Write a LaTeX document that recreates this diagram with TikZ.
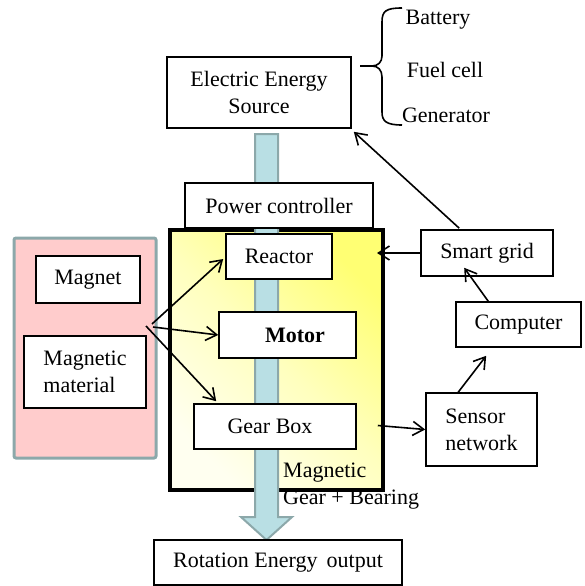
\documentclass[tikz,border=0pt]{standalone}
\usepackage{fontspec}
\setmainfont{Liberation Serif}
\usetikzlibrary{arrows.meta,calc}
\definecolor{shaftfill}{RGB}{185,223,228}
\definecolor{shaftline}{RGB}{140,168,170}
\definecolor{pinkfill}{RGB}{255,204,204}
\definecolor{pinkline}{RGB}{140,168,170}
\definecolor{ytop}{RGB}{255,255,115}
\definecolor{ymid}{RGB}{255,255,190}
\definecolor{ybot}{RGB}{255,255,240}
\begin{document}
\begin{tikzpicture}[x=1pt,y=-1pt,
  txt/.style={font=\fontsize{22}{27}\selectfont},
  box/.style={txt,draw=black,line width=1.6pt,fill=white,inner sep=0pt,align=center},
  conn/.style={line width=1.6pt,-{Straight Barb[length=11pt,width=14pt]}},
  lbl/.style={txt,inner sep=0pt}]
\useasboundingbox (0,0) rectangle (584,586);

% yellow housing and pink magnet panel
\node[draw=black,line width=4pt,minimum width=213pt,minimum height=260pt,
      top color=ytop,bottom color=ybot,middle color=ymid,shading angle=-45,inner sep=0pt] (ybox) at (276.5,360) {};
\node[draw=pinkline,fill=pinkfill,line width=3pt,rounded corners=2pt,
      minimum width=142pt,minimum height=220pt,inner sep=0pt] (pink) at (85,348) {};

% shaft block arrow
\path[fill=shaftfill,draw=shaftline,line width=2pt]
  (255,134) -- (278,134) -- (278,517) -- (292,517) -- (266.5,540) -- (241,517) -- (255,517) -- cycle;

% boxes
\node[box,minimum width=184pt,minimum height=71pt] (ees) at (259,92.5) {Electric Energy\\Source};
\node[box,minimum width=188pt,minimum height=45pt] (pc) at (279,205.5) {Power controller};
\node[box,minimum width=106pt,minimum height=45pt] (reactor) at (279,256.5) {Reactor};
\node[box,minimum width=137pt,minimum height=46pt] (motor) at (287.5,335) {\hspace*{15pt}\bfseries Motor};
\node[box,minimum width=162pt,minimum height=45pt] (gear) at (275,426.5) {\hspace*{-10pt}Gear Box};
\node[box,minimum width=104pt,minimum height=47pt] (magnet) at (88,279.5) {Magnet};
\node[box,minimum width=122pt,minimum height=72pt,align=left] (magmat) at (85,372) {Magnetic\\material};
\node[box,minimum width=132pt,minimum height=46pt] (smart) at (487,253) {Smart grid};
\node[box,minimum width=125pt,minimum height=45pt] (computer) at (518.5,324.5) {Computer};
\node[box,minimum width=111pt,minimum height=73pt,align=left] (sensor) at (481.5,429.5) {Sensor\\network};
\node[box,minimum width=248pt,minimum height=45pt] (rot) at (278,562.5) {Rotation Energy\, output};

% source list with brace
\node[lbl] (battery) at (438,20) {Battery};
\node[lbl] (fuel) at (445,70) {Fuel cell};
\node[lbl] (generator) at (446,115) {Generator};
\draw[line width=1.6pt]
  (402,8) .. controls (386,8) and (382,11) .. (382,22) -- (382,56)
  .. controls (382,62) and (378,66) .. (372,66) -- (360,66);
\draw[line width=1.6pt]
  (372,66) .. controls (378,66) and (382,70) .. (382,77) -- (382,112)
  .. controls (382,121) and (386,125) .. (402,125);

% magnetic gear label
\node[lbl,anchor=west,align=left] (mgb) at (283,486) {Magnetic\\Gear + Bearing};

% connectors
\coordinate (src) at (152,324);
\draw[conn] (src) -- ($(reactor.west)+(-2,2.5)$);
\draw[conn] ($(src)+(1,3)$) -- (motor.west);
\draw[conn] ($(src)+(-6,2)$) -- ($(gear.north west)+(23,-2)$);
\draw[conn] (smart.west) -- ($(smart.west -| ybox.east)+(-8,0)$);
\draw[conn] ($(smart.north west)+(39,-1)$) -- ($(ees.south east)+(2,3)$);
\draw[conn] ($(computer.north west)+(33,0)$) -- ($(smart.south west)+(44,-9)$);
\draw[conn] ($(sensor.north west)+(33,0)$) -- ($(computer.south west)+(31,8)$);
\draw[conn] ($(gear.east)+(21,-1)$) -- (sensor.west);
\end{tikzpicture}
\end{document}
